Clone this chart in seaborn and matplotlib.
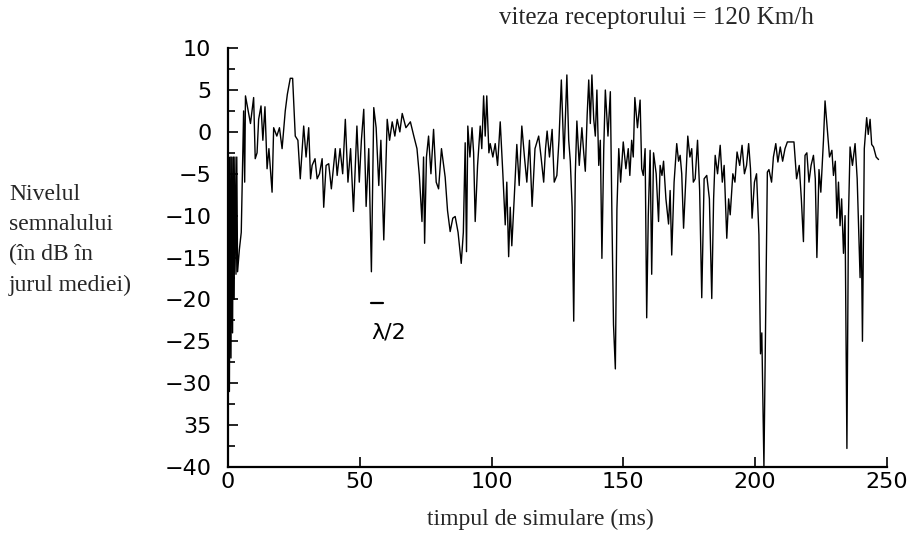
import pandas as pd
import matplotlib
matplotlib.use('Agg')
import matplotlib.pyplot as plt
import seaborn as sns

# simulated fading trace (time in ms, level in dB around the mean)
t_ms = [
    0.0, 0.2, 0.5, 0.8, 1.1, 1.4, 1.7, 2.0, 2.3, 2.6,
    3.0, 3.3, 3.6, 4.3, 5.0, 5.9, 6.3, 6.6, 8.5, 9.7,
    10.3, 11.0, 11.6, 12.5, 13.2, 14.0, 14.8, 15.5, 16.7, 17.3,
    18.5, 19.5, 20.5, 21.7, 22.5, 23.6, 24.5, 25.5, 26.5, 27.4,
    28.7, 29.6, 30.6, 31.3, 31.9, 33.0, 33.8, 34.7, 35.7, 36.3,
    37.2, 38.2, 39.2, 40.7, 41.4, 42.5, 43.5, 44.5, 45.5, 46.5,
    47.6, 48.9, 49.8, 50.6, 51.5, 52.4, 53.4, 54.4, 55.3, 56.2,
    57.2, 58.0, 59.1, 60.4, 61.3, 62.3, 63.3, 64.2, 65.2, 66.1,
    67.5, 69.2, 70.5, 71.7, 72.6, 73.6, 74.2, 74.6, 75.3, 76.1,
    77.0, 78.0, 79.0, 79.9, 81.0, 82.4, 83.3, 84.3, 85.3, 86.2,
    87.3, 88.5, 89.3, 90.0, 90.5, 91.0, 91.8, 92.6, 93.2, 93.8,
    94.7, 95.7, 96.3, 97.0, 97.6, 98.2, 99.0, 99.5, 100.5, 101.4,
    102.3, 103.3, 104.3, 105.2, 105.8, 106.5, 107.1, 107.7, 108.6, 109.6,
    110.5, 111.5, 112.5, 113.4, 114.4, 115.4, 116.5, 117.9, 118.8, 119.8,
    120.5, 121.1, 122.0, 123.0, 123.8, 124.8, 125.6, 126.5, 127.5, 128.6,
    129.3, 129.9, 130.6, 131.2, 131.8, 132.4, 133.3, 134.3, 135.0, 135.6,
    136.3, 136.9, 137.5, 138.1, 138.8, 139.4, 140.0, 140.7, 141.3, 141.9,
    142.6, 143.2, 144.2, 145.1, 145.7, 146.3, 147.0, 147.6, 148.3, 149.0,
    150.0, 151.0, 151.9, 152.5, 153.2, 153.8, 154.4, 155.4, 156.4, 157.0,
    157.6, 158.3, 158.9, 159.5, 160.2, 160.8, 161.5, 162.5, 163.4, 164.0,
    164.7, 165.3, 166.2, 167.2, 167.8, 168.4, 169.3, 170.3, 171.0, 171.6,
    172.2, 172.9, 173.7, 174.5, 175.3, 176.0, 176.6, 177.3, 178.2, 179.0,
    179.8, 180.7, 181.7, 182.7, 183.6, 184.3, 184.9, 185.8, 186.8, 187.6,
    188.3, 189.3, 190.0, 190.6, 191.6, 192.4, 193.2, 194.2, 195.1, 196.0,
    196.8, 197.6, 198.3, 198.9, 199.8, 200.6, 201.5, 202.1, 202.6, 203.4,
    204.7, 205.3, 206.3, 207.0, 207.9, 208.7, 209.6, 210.5, 211.4, 212.3,
    214.8, 215.8, 216.8, 217.6, 218.4, 219.0, 219.7, 220.5, 221.3, 222.2,
    222.9, 223.5, 224.3, 225.0, 226.0, 226.6, 227.3, 228.3, 229.2, 229.8,
    230.5, 231.1, 231.7, 232.3, 232.9, 233.6, 234.2, 234.9, 235.5, 236.1,
    237.0, 238.0, 238.8, 239.9, 240.3, 240.8, 241.5, 242.4, 243.0, 243.7,
    244.3, 245.0, 246.0, 246.9,
]
level_db = [
    -30, -3, -31, -3, -27, -3, -24, -3, -20, -3,
    -17, -3, -16.7, -14, -12, 2.5, -6, 4.3, 1.0, 4.1,
    -3.2, -2.5, 1.5, 3.1, -1.0, 3.0, -4.4, -2.0, -7.2, 0.5,
    -0.5, 0.5, -2.0, 2.5, 4.5, 6.4, 6.4, -0.5, -1.0, -5.6,
    0.7, -3.0, 0.5, -5.6, -4.0, -3.2, -5.6, -5.0, -3.2, -9.0,
    -4.0, -3.8, -6.8, -2.0, -5.2, -2.0, -5.0, 1.5, -6.0, -2.0,
    -9.5, 0.7, -6.0, -1.0, 2.7, -8.9, -2.0, -16.7, 2.9, 0.5,
    -6.4, -1.0, -12.9, 1.5, -1.0, 1.2, -0.5, 1.5, 0.0, 2.2,
    0.5, 1.2, -0.5, -2.0, -5.2, -10.7, -3.0, -13.3, -3.0, -0.5,
    -5.0, 0.3, -6.0, -6.8, -2.0, -5.4, -9.4, -11.9, -10.3, -10.1,
    -12.0, -15.7, -12.0, -1.3, -14.3, 0.7, -3.0, 0.5, -2.5, -10.7,
    -4.0, 0.7, -2.0, 4.3, -0.5, 4.3, -2.5, -1.4, -3.0, -1.4,
    -4.0, 1.2, -5.0, -11.1, -6.0, -14.9, -9.0, -13.6, -8.0, -1.5,
    -6.4, 0.7, -3.0, -6.0, -1.0, -8.9, -2.0, -0.5, -3.0, -6.0,
    -2.0, 0.1, -3.0, 0.3, -6.0, -5.2, -1.0, 6.2, -3.2, 6.8,
    -1.0, -3.5, -9.0, -22.6, -5.0, 1.3, -4.0, 0.5, -2.5, -4.7,
    2.0, 6.2, 1.0, 6.8, 1.5, -0.5, 5.0, -4.0, -1.0, -15.1,
    -2.0, 5.0, -0.5, 4.8, -10.0, -23.0, -28.3, -9.2, -2.0, -6.0,
    -1.2, -4.4, -2.0, -5.2, -1.0, -3.0, 4.1, 0.5, 3.8, -4.4,
    -5.2, -2.0, -22.2, -10.0, -2.2, -17.0, -2.5, -5.0, -10.7, -4.0,
    -5.2, -3.5, -8.0, -11.0, -7.0, -14.7, -6.0, -1.4, -3.5, -2.8,
    -5.0, -11.5, -6.0, -0.5, -3.0, -2.0, -6.0, -5.6, -1.0, -7.0,
    -19.8, -5.6, -5.2, -8.0, -19.9, -8.0, -2.8, -5.0, -1.6, -6.0,
    -4.0, -12.7, -8.0, -9.9, -5.0, -6.0, -2.4, -4.0, -1.6, -5.0,
    -4.0, -1.4, -4.4, -10.3, -6.0, -5.0, -12.3, -26.5, -24.0, -40.0,
    -4.8, -4.5, -6.0, -3.0, -1.4, -3.6, -1.8, -3.5, -2.0, -1.2,
    -1.2, -5.6, -4.0, -8.0, -13.1, -2.8, -2.5, -6.0, -4.0, -2.8,
    -5.6, -15.0, -4.5, -7.2, -1.0, 3.7, 1.0, -3.0, -2.2, -5.2,
    -3.5, -10.3, -6.0, -11.2, -8.0, -14.5, -10.0, -37.8, -10.0, -1.8,
    -4.0, -1.4, -5.6, -17.4, -10.0, -25.0, -2.0, 1.7, -0.3, 1.5,
    -1.5, -1.8, -3.0, -3.3,
]

x_ticks = [0, 50, 100, 150, 200, 250]
y_ticks = [10, 5, 0, -5, -10, -15, -20, -25, -30, -35, -40]
y_minor_ticks = [7.5, 2.5, -2.5, -7.5, -12.5, -17.5, -22.5, -27.5, -32.5, -37.5]
y_tick_labels = ['10', '5', '0', '\u22125', '\u221210', '\u221215', '\u221220',
                 '\u221225', '\u221230', '35', '\u221240']
ylabel_lines = ['Nivelul', 'semnalului', '(în dB în', 'jurul mediei)']

# half-wavelength scale bar
lambda_bar_t = [54.2, 58.8]
lambda_bar_db = [-20.4, -20.4]

sns.set_theme(style='white')
plt.rcParams['font.family'] = ['DejaVu Sans']

fig = plt.figure(figsize=(9.16, 5.41), dpi=100)
ax = fig.add_axes([0.249, 0.137, 0.719, 0.774])

df = pd.DataFrame({'t': t_ms, 'db': level_db})
sns.lineplot(data=df, x='t', y='db', ax=ax, sort=False, estimator=None,
             color='black', linewidth=1.0)

ax.plot(lambda_bar_t, lambda_bar_db, color='black', linewidth=1.6)
ax.text(61, -24, '\u03bb/2', fontsize=16, ha='center', va='center', color='black')

ax.set_xlim(0, 250)
ax.set_ylim(-40, 10)
ax.set_xticks(x_ticks)
ax.set_yticks(y_ticks)
ax.set_yticks(y_minor_ticks, minor=True)
ax.set_yticklabels(y_tick_labels)
ax.tick_params(which='both', direction='in', bottom=True, left=True,
               colors='black', width=1.2)
ax.tick_params(which='major', length=7, labelsize=16)
ax.tick_params(which='minor', length=5)
ax.tick_params(axis='y', which='major', pad=12)
ax.tick_params(axis='x', which='major', pad=4)
ax.set_xlabel('')
ax.set_ylabel('')

sns.despine(ax=ax)
for side in ['left', 'bottom']:
    ax.spines[side].set_linewidth(1.6)
    ax.spines[side].set_color('black')

serif = ['Liberation Serif', 'DejaVu Serif']
fig.text(0.717, 0.967, 'viteza receptorului = 120 Km/h', family=serif,
         fontsize=18, ha='center', va='center')
fig.text(0.59, 0.039, 'timpul de simulare (ms)', family=serif,
         fontsize=17, ha='center', va='center')
for i, line in enumerate(ylabel_lines):
    fig.text(0.01, 0.641 - i * 0.056, line, family=serif, fontsize=17,
             ha='left', va='center')

fig.savefig('out.png', dpi=100, facecolor='white')
